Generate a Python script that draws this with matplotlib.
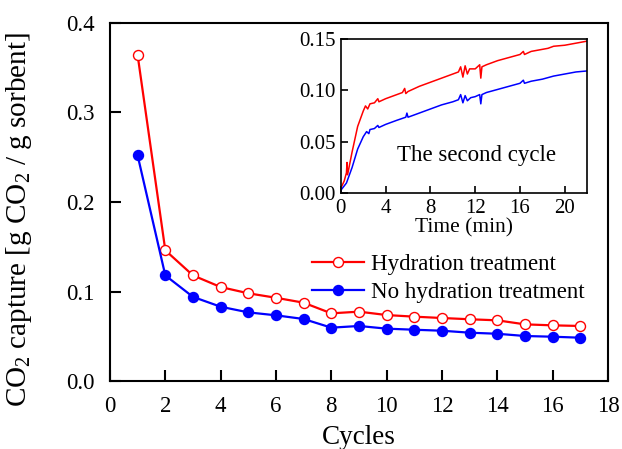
import matplotlib
matplotlib.use("Agg")
import matplotlib.pyplot as plt

plt.rcParams['font.family'] = ['Liberation Serif', 'DejaVu Serif']
plt.rcParams['mathtext.fontset'] = 'custom'
plt.rcParams['mathtext.rm'] = 'Liberation Serif'
plt.rcParams['mathtext.it'] = 'Liberation Serif:italic'

# Main plot data: CO2 capture per cycle
cycles = list(range(1, 18))
hydration = [0.364, 0.146, 0.118, 0.105, 0.098, 0.093, 0.0875, 0.0756, 0.0775,
             0.0737, 0.0719, 0.0704, 0.069, 0.0678, 0.0633, 0.0622, 0.0615]
no_hydration = [0.252, 0.118, 0.094, 0.083, 0.0767, 0.0734, 0.0693, 0.0596, 0.0615,
                0.0585, 0.0573, 0.0562, 0.054, 0.0528, 0.0503, 0.0495, 0.0484]

# Inset data: second cycle uptake vs time (min)
t_red = [0, 0.3, 0.5, 0.55, 0.6, 1.0, 1.5, 2.0, 2.2, 2.4, 2.6, 3.0, 3.3, 3.4, 4.0,
         5.0, 5.5, 5.7, 5.8, 6.0, 7.0, 8.0, 9.0, 10.0, 10.5, 10.7, 10.9, 11.1, 11.3,
         11.5, 12.0, 12.4, 12.5, 12.6, 13.0, 14.0, 15.0, 16.0, 16.3, 16.4, 17.0, 18.0,
         18.5, 19.0, 20.0, 21.0, 22.0]
q_red = [0.005, 0.012, 0.020, 0.030, 0.018, 0.040, 0.065, 0.080, 0.085, 0.082, 0.087,
         0.088, 0.092, 0.089, 0.092, 0.096, 0.098, 0.102, 0.097, 0.099, 0.104, 0.108,
         0.112, 0.116, 0.118, 0.123, 0.113, 0.124, 0.116, 0.121, 0.121, 0.125, 0.112,
         0.123, 0.125, 0.129, 0.132, 0.135, 0.138, 0.135, 0.138, 0.140, 0.141, 0.143,
         0.144, 0.146, 0.148]
t_blue = [0, 0.5, 1.0, 1.5, 2.0, 2.3, 2.5, 2.6, 3.0, 3.3, 3.4, 4.0, 5.0, 5.8, 5.9,
          6.0, 7.0, 8.0, 9.0, 10.0, 10.5, 10.7, 10.9, 11.1, 11.3, 11.6, 12.0, 12.4,
          12.5, 12.6, 13.0, 14.0, 15.0, 16.0, 16.3, 16.4, 17.0, 18.0, 19.0, 20.0,
          21.0, 22.0]
q_blue = [0.003, 0.010, 0.025, 0.043, 0.055, 0.060, 0.058, 0.062, 0.063, 0.066, 0.064,
          0.067, 0.071, 0.074, 0.078, 0.074, 0.078, 0.082, 0.086, 0.089, 0.091, 0.096,
          0.088, 0.095, 0.090, 0.093, 0.094, 0.096, 0.087, 0.096, 0.098, 0.101, 0.104,
          0.107, 0.110, 0.107, 0.109, 0.111, 0.114, 0.116, 0.118, 0.119]

red = '#ff0000'
blue = '#0000ff'

fig = plt.figure(figsize=(6.22, 4.49), dpi=100)
ax = fig.add_axes([0.1768, 0.1514, 0.8007, 0.7974])

ax.plot(cycles, hydration, '-o', color=red, lw=1.6, ms=7.2, mfc='white', mec=red,
        mew=1.0, label='Hydration treatment')
ax.plot(cycles, no_hydration, '-o', color=blue, lw=1.6, ms=7.2, mfc=blue, mec=blue,
        label='No hydration treatment')

ax.set_xlim(0, 18)
ax.set_ylim(0, 0.4)
ax.set_xticks(range(0, 19, 2))
ax.set_yticks([0.0, 0.1, 0.2, 0.3, 0.4])
ax.set_yticklabels(['0.0', '0.1', '0.2', '0.3', '0.4'])
ax.tick_params(direction='in', length=8, width=1.5, labelsize=16.5, pad=11,
               top=False, right=False)
for s in ax.spines.values():
    s.set_linewidth(1.5)
ax.set_xlabel('Cycles', fontsize=19.5)
ax.xaxis.set_label_coords(0.5, -0.122)
ax.set_ylabel('CO$_2$ capture [g CO$_2$ / g sorbent]', fontsize=21)
ax.yaxis.set_label_coords(-0.152, 0.45)

ax.legend(loc='center left', bbox_to_anchor=(0.405, 0.286), frameon=False,
          fontsize=16.5, borderpad=0, borderaxespad=0, handlelength=2.3,
          handletextpad=0.3, labelspacing=0.3)

# Inset
ins = fig.add_axes([0.548, 0.5695, 0.396, 0.3435])
ins.plot(t_red, q_red, color=red, lw=1.1)
ins.plot(t_blue, q_blue, color=blue, lw=1.1)
ins.set_xlim(0, 22)
ins.set_ylim(0, 0.15)
ins.set_xticks(range(0, 21, 4))
ins.set_yticks([0.0, 0.05, 0.10, 0.15])
ins.set_yticklabels(['0.00', '0.05', '0.10', '0.15'])
ins.tick_params(direction='in', length=5, width=1.2, labelsize=15, pad=4,
                top=False, right=False)
for s in ins.spines.values():
    s.set_linewidth(1.2)
ins.set_xlabel('Time (min)', fontsize=15.5, labelpad=0)
ins.text(12.1, 0.037, 'The second cycle', ha='center', va='center', fontsize=16.5)

fig.savefig('out.png', dpi=100)
